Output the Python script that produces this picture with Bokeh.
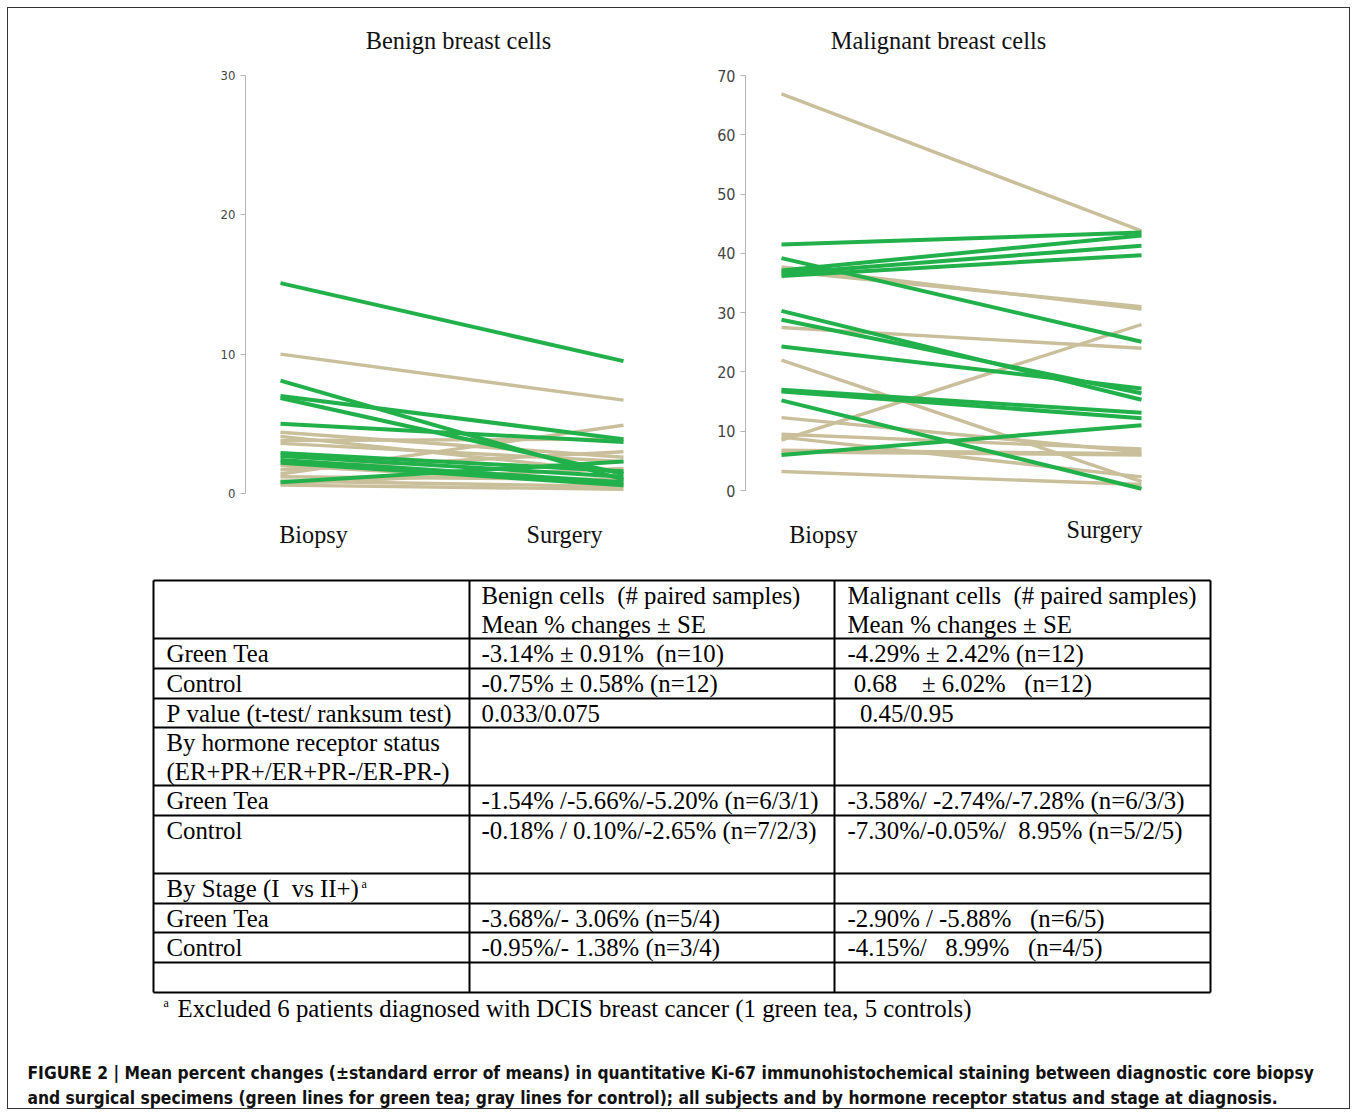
from bokeh.plotting import figure
from bokeh.layouts import row, column
from bokeh.models import FixedTicker, Range1d
from bokeh.core.properties import value
from bokeh.embed import file_html
from bokeh.resources import INLINE

# ---------------- data ----------------
STAGES = ["Biopsy", "Surgery"]

BENIGN_TITLE = "Benign breast cells"
BENIGN_GT_BIOPSY = [15.1, 8.1, 7.0, 6.85, 5.0, 2.9, 2.7, 2.4, 2.2, 0.8]
BENIGN_GT_SURGERY = [9.5, 1.0, 3.9, 1.4, 3.7, 1.6, 1.2, 0.8, 0.6, 2.3]
BENIGN_CTRL_BIOPSY = [10.0, 4.4, 4.1, 3.8, 3.6, 2.0, 1.7, 1.4, 1.2, 0.9, 0.7, 0.6]
BENIGN_CTRL_SURGERY = [6.7, 2.6, 1.5, 3.9, 2.3, 0.7, 3.0, 4.9, 1.0, 0.5, 1.8, 0.3]
BENIGN_TICKS = [0, 10, 20, 30]

MALIG_TITLE = "Malignant breast cells"
MALIG_GT_BIOPSY = [41.5, 37.1, 36.6, 36.2, 39.2, 30.3, 28.8, 24.3, 17.0, 16.7, 15.2, 6.0]
MALIG_GT_SURGERY = [43.5, 43.0, 41.3, 39.7, 25.1, 15.3, 16.4, 17.2, 13.1, 12.2, 0.3, 11.0]
MALIG_CTRL_BIOPSY = [66.9, 37.7, 37.0, 27.5, 22.0, 12.3, 9.5, 9.0, 8.5, 6.8, 6.5, 3.2]
MALIG_CTRL_SURGERY = [43.8, 30.6, 31.0, 24.0, 1.5, 6.5, 7.0, 2.3, 28.0, 6.2, 6.0, 1.0]
MALIG_TICKS = [0, 10, 20, 30, 40, 50, 60, 70]

TABLE_CELLS = [
    ["", "Benign cells  (# paired samples)\nMean % changes \u00b1 SE",
     "Malignant cells  (# paired samples)\nMean % changes \u00b1 SE"],
    ["Green Tea", "-3.14% \u00b1 0.91%  (n=10)", "-4.29% \u00b1 2.42% (n=12)"],
    ["Control", "-0.75% \u00b1 0.58% (n=12)", " 0.68    \u00b1 6.02%   (n=12)"],
    ["P value (t-test/ ranksum test)", "0.033/0.075", "  0.45/0.95"],
    ["By hormone receptor status\n(ER+PR+/ER+PR-/ER-PR-)", "", ""],
    ["Green Tea", "-1.54% /-5.66%/-5.20% (n=6/3/1)", "-3.58%/ -2.74%/-7.28% (n=6/3/3)"],
    ["Control", "-0.18% / 0.10%/-2.65% (n=7/2/3)", "-7.30%/-0.05%/  8.95% (n=5/2/5)"],
    ["By Stage (I  vs II+)", "", ""],
    ["Green Tea", "-3.68%/- 3.06% (n=5/4)", "-2.90% / -5.88%   (n=6/5)"],
    ["Control", "-0.95%/- 1.38% (n=3/4)", "-4.15%/   8.99%   (n=4/5)"],
    ["", "", ""],
]
STAGE_NOTE_MARK = "a"
FOOTNOTE = "Excluded 6 patients diagnosed with DCIS breast cancer (1 green tea, 5 controls)"
CAPTION_1 = ("FIGURE 2 | Mean percent changes (\u00b1standard error of means) in quantitative "
             "Ki-67 immunohistochemical staining between diagnostic core biopsy")
CAPTION_2 = ("and surgical specimens (green lines for green tea; gray lines for control); "
             "all subjects and by hormone receptor status and stage at diagnosis.")

# ---------------- style ----------------
GREEN = "#22b04b"
TAN = "#c9bf9b"
SERIF = "'Liberation Serif', 'Times New Roman', serif"
NARROW = "'Liberation Sans Narrow', 'DejaVu Sans Condensed', 'Liberation Sans', sans-serif"


def nb(s):
    return s.replace(" ", "\u00a0")


def make_chart(width, height, border_left, frame_left, frame_right, x0_px, x1_px,
               y0_px, ytop_px, ymax, ticks, tick_size, title, title_cx,
               label_cx, label_cy, gt_b, gt_s, ct_b, ct_s):
    xppu = x1_px - x0_px
    yppu = (y0_px - ytop_px) / ymax
    page_top, page_bottom = 8, 8 + height
    p = figure(width=width, height=height, output_backend="svg", toolbar_location=None,
               x_axis_location=None, y_axis_location="left",
               x_range=Range1d((frame_left - x0_px) / xppu, (frame_right - x0_px) / xppu),
               y_range=Range1d(-(page_bottom - y0_px) / yppu, ymax + (ytop_px - page_top) / yppu),
               min_border_left=border_left, min_border_right=0, min_border_top=0,
               min_border_bottom=0)
    p.outline_line_color = None
    p.xgrid.visible = False
    p.ygrid.visible = False
    ax = p.yaxis[0]
    ax.ticker = FixedTicker(ticks=ticks)
    ax.bounds = (0, ymax)
    ax.axis_line_color = "#b5b5b5"
    ax.axis_line_width = 1
    ax.major_tick_line_color = "#b5b5b5"
    ax.major_tick_out = 5
    ax.major_tick_in = 0
    ax.minor_tick_line_color = None
    ax.major_label_standoff = 5
    ax.major_label_text_font = NARROW
    ax.major_label_text_font_size = tick_size
    ax.major_label_text_color = "#444444"

    p.multi_line(xs=[[0, 1] for _ in ct_b], ys=[[b, s] for b, s in zip(ct_b, ct_s)],
                 line_color=TAN, line_width=3.4)
    p.multi_line(xs=[[0, 1] for _ in gt_b], ys=[[b, s] for b, s in zip(gt_b, gt_s)],
                 line_color=GREEN, line_width=4)

    def dx(px):
        return (px - x0_px) / xppu

    def dy(py):
        return (y0_px - py) / yppu

    p.text(x=[dx(title_cx)], y=[dy(40)], text=[title], text_font=value(SERIF),
           text_font_size="24.4px", text_align="center", text_baseline="middle",
           text_color="#111111")
    p.text(x=[dx(c) for c in label_cx], y=[dy(c) for c in label_cy], text=STAGES,
           text_font=value(SERIF), text_font_size="24.2px", text_align="center",
           text_baseline="middle", text_color="#111111")
    return p


left = make_chart(692, 552, 237, 245, 700, 280, 623, 493, 75, 30, BENIGN_TICKS, "13px",
                  BENIGN_TITLE, 458, [313, 564], [534, 534],
                  BENIGN_GT_BIOPSY, BENIGN_GT_SURGERY, BENIGN_CTRL_BIOPSY, BENIGN_CTRL_SURGERY)
right = make_chart(649, 552, 45, 745, 1349, 781, 1141, 490, 75, 70, MALIG_TICKS, "16px",
                   MALIG_TITLE, 938, [823, 1104], [534, 529],
                   MALIG_GT_BIOPSY, MALIG_GT_SURGERY, MALIG_CTRL_BIOPSY, MALIG_CTRL_SURGERY)

# ---------------- table (page-pixel coordinates) ----------------
T_TOP, T_H = 560, 548
ROW_EDGES = [580, 638, 668, 698, 727, 785, 815, 873, 903, 932, 962, 992]
COL_EDGES = [153, 469, 834, 1210]
TEXT_X = [166, 481, 847]

t = figure(width=1341, height=T_H, output_backend="svg", toolbar_location=None,
           x_range=Range1d(8, 1349), y_range=Range1d(T_TOP + T_H, T_TOP),
           x_axis_location=None, y_axis_location=None,
           min_border_left=0, min_border_right=0, min_border_top=0, min_border_bottom=0)
t.outline_line_color = None
t.xgrid.visible = False
t.ygrid.visible = False

t.segment(x0=[COL_EDGES[0]] * len(ROW_EDGES), x1=[COL_EDGES[-1]] * len(ROW_EDGES),
          y0=ROW_EDGES, y1=ROW_EDGES, line_color="#000000", line_width=2)
t.segment(x0=COL_EDGES, x1=COL_EDGES, y0=[ROW_EDGES[0]] * len(COL_EDGES),
          y1=[ROW_EDGES[-1]] * len(COL_EDGES), line_color="#000000", line_width=2)

tx, ty, tt = [], [], []
for r, cells in enumerate(TABLE_CELLS):
    for c, cell in enumerate(cells):
        for k, line in enumerate(cell.split("\n")):
            if line:
                tx.append(TEXT_X[c])
                ty.append(ROW_EDGES[r] + 15 + 29 * k)
                tt.append(nb(line))
t.text(x=tx, y=ty, text=tt, text_font=value(SERIF), text_font_size="24.8px",
       text_align="left", text_baseline="middle", text_color="#000000")
# superscript marks
t.text(x=[361, 163], y=[ROW_EDGES[7] + 10, 1002], text=[STAGE_NOTE_MARK, STAGE_NOTE_MARK],
       text_font=value(SERIF), text_font_size="12px", text_align="left",
       text_baseline="middle", text_color="#000000")
t.text(x=[177], y=[1008], text=[FOOTNOTE], text_font=value(SERIF), text_font_size="24.8px",
       text_align="left", text_baseline="middle", text_color="#000000")
t.text(x=[27, 27], y=[1072, 1097], text=[CAPTION_1, CAPTION_2], text_font=value(NARROW),
       text_font_size="17.3px", text_font_style="bold", text_align="left",
       text_baseline="middle", text_color="#111111")

layout = column(row(left, right), t, margin=(7, 0, 0, 7),
                styles={"border": "1px solid #333333"})

open("out.html", "w").write(file_html(layout, INLINE))
